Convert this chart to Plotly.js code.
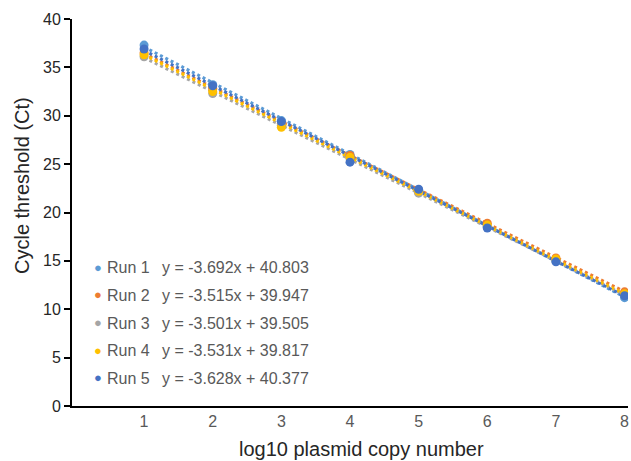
<!DOCTYPE html>
<html><head><meta charset="utf-8">
<script src="https://cdn.plot.ly/plotly-3.0.1.min.js"></script>
<style>html,body{margin:0;padding:0;background:#fff}</style>
</head><body>
<div id="chart" style="width:631px;height:461px"></div>
<script>
var xValues = [1, 2, 3, 4, 5, 6, 7, 8];
var runNames = ['Run 1', 'Run 2', 'Run 3', 'Run 4', 'Run 5'];
var run1 = [37.3, 33.2, 29.5, 26.0, 22.3, 18.5, 15.0, 11.2];
var run2 = [36.5, 32.8, 29.2, 25.9, 22.1, 18.9, 15.3, 11.8];
var run3 = [36.1, 32.3, 29.0, 25.6, 22.0, 18.5, 15.0, 11.5];
var run4 = [36.3, 32.5, 28.8, 25.7, 22.2, 18.7, 15.2, 11.6];
var run5 = [36.9, 33.1, 29.4, 25.2, 22.4, 18.4, 14.9, 11.4];
var slopes = [-3.692, -3.515, -3.501, -3.531, -3.628];
var intercepts = [40.803, 39.947, 39.505, 39.817, 40.377];
var equations = ['y = -3.692x + 40.803', 'y = -3.515x + 39.947', 'y = -3.501x + 39.505', 'y = -3.531x + 39.817', 'y = -3.628x + 40.377'];
var colors = ['#5B9BD5', '#ED7D31', '#A5A5A5', '#FFC000', '#4472C4'];
var yTicks = [0, 5, 10, 15, 20, 25, 30, 35, 40];
var xTitle = 'log10 plasmid copy number';
var yTitle = 'Cycle threshold (Ct)';

var FONT = 'Liberation Sans, Arial, sans-serif';
var runs = [run1, run2, run3, run4, run5];
var traces = [];
runs.forEach(function (r, i) {
  var x0 = xValues[0], x1 = xValues[xValues.length - 1];
  traces.push({
    x: [x0, x1], y: [slopes[i] * x0 + intercepts[i], slopes[i] * x1 + intercepts[i]],
    mode: 'lines', line: {color: colors[i], width: 3, dash: 'dot'},
    showlegend: false, hoverinfo: 'skip'
  });
});
runs.forEach(function (r, i) {
  traces.push({
    x: xValues, y: r, mode: 'markers', name: runNames[i],
    marker: {color: colors[i], size: 9}, showlegend: false
  });
});

var annotations = [];
var rowTop = 0.357; // paper y of first row
var rowStep = 0.0715;
runNames.forEach(function (n, i) {
  var yy = rowTop - i * rowStep;
  annotations.push({xref: 'paper', yref: 'paper', x: 0.0476, y: yy + 0.002, xanchor: 'center', yanchor: 'middle',
    text: '●', showarrow: false, font: {family: FONT, size: 13, color: colors[i]}});
  annotations.push({xref: 'paper', yref: 'paper', x: 0.059, y: yy, xanchor: 'left', yanchor: 'middle',
    text: n, showarrow: false, font: {family: FONT, size: 16, color: '#595959'}});
  annotations.push({xref: 'paper', yref: 'paper', x: 0.159, y: yy, xanchor: 'left', yanchor: 'middle',
    text: equations[i], showarrow: false, font: {family: FONT, size: 16, color: '#595959'}});
});
// axis titles placed as in the reference
annotations.push({xref: 'paper', yref: 'paper', x: (361 - 72) / 556, y: -(449 - 406) / 387, xanchor: 'center', yanchor: 'middle',
  text: xTitle, showarrow: false, font: {family: FONT, size: 20, color: '#262626'}});
annotations.push({xref: 'paper', yref: 'paper', x: -(72 - 22) / 556, y: (406 - 186) / 387, xanchor: 'center', yanchor: 'middle',
  textangle: -90, text: yTitle, showarrow: false, font: {family: FONT, size: 20, color: '#262626'}});

var layout = {
  width: 631, height: 461,
  margin: {l: 72, r: 3, t: 19, b: 55},
  paper_bgcolor: '#fff', plot_bgcolor: '#fff',
  font: {family: FONT, color: '#262626'},
  xaxis: {
    range: [-0.05, 8.05], tickvals: xValues, ticktext: xValues.map(String),
    showgrid: false, zeroline: false, showline: true, linecolor: '#000', linewidth: 2,
    ticks: '', tickfont: {size: 16, color: '#595959'}
  },
  yaxis: {
    range: [0, 40], tickvals: yTicks, ticktext: yTicks.map(String),
    showgrid: false, zeroline: false, showline: true, linecolor: '#000', linewidth: 2,
    ticks: 'outside', ticklen: 6, tickwidth: 2, tickcolor: '#000',
    tickfont: {size: 16, color: '#262626'}
  },
  annotations: annotations,
  showlegend: false
};
Plotly.newPlot('chart', traces, layout, {displayModeBar: false, staticPlot: true});
</script>
</body></html>
